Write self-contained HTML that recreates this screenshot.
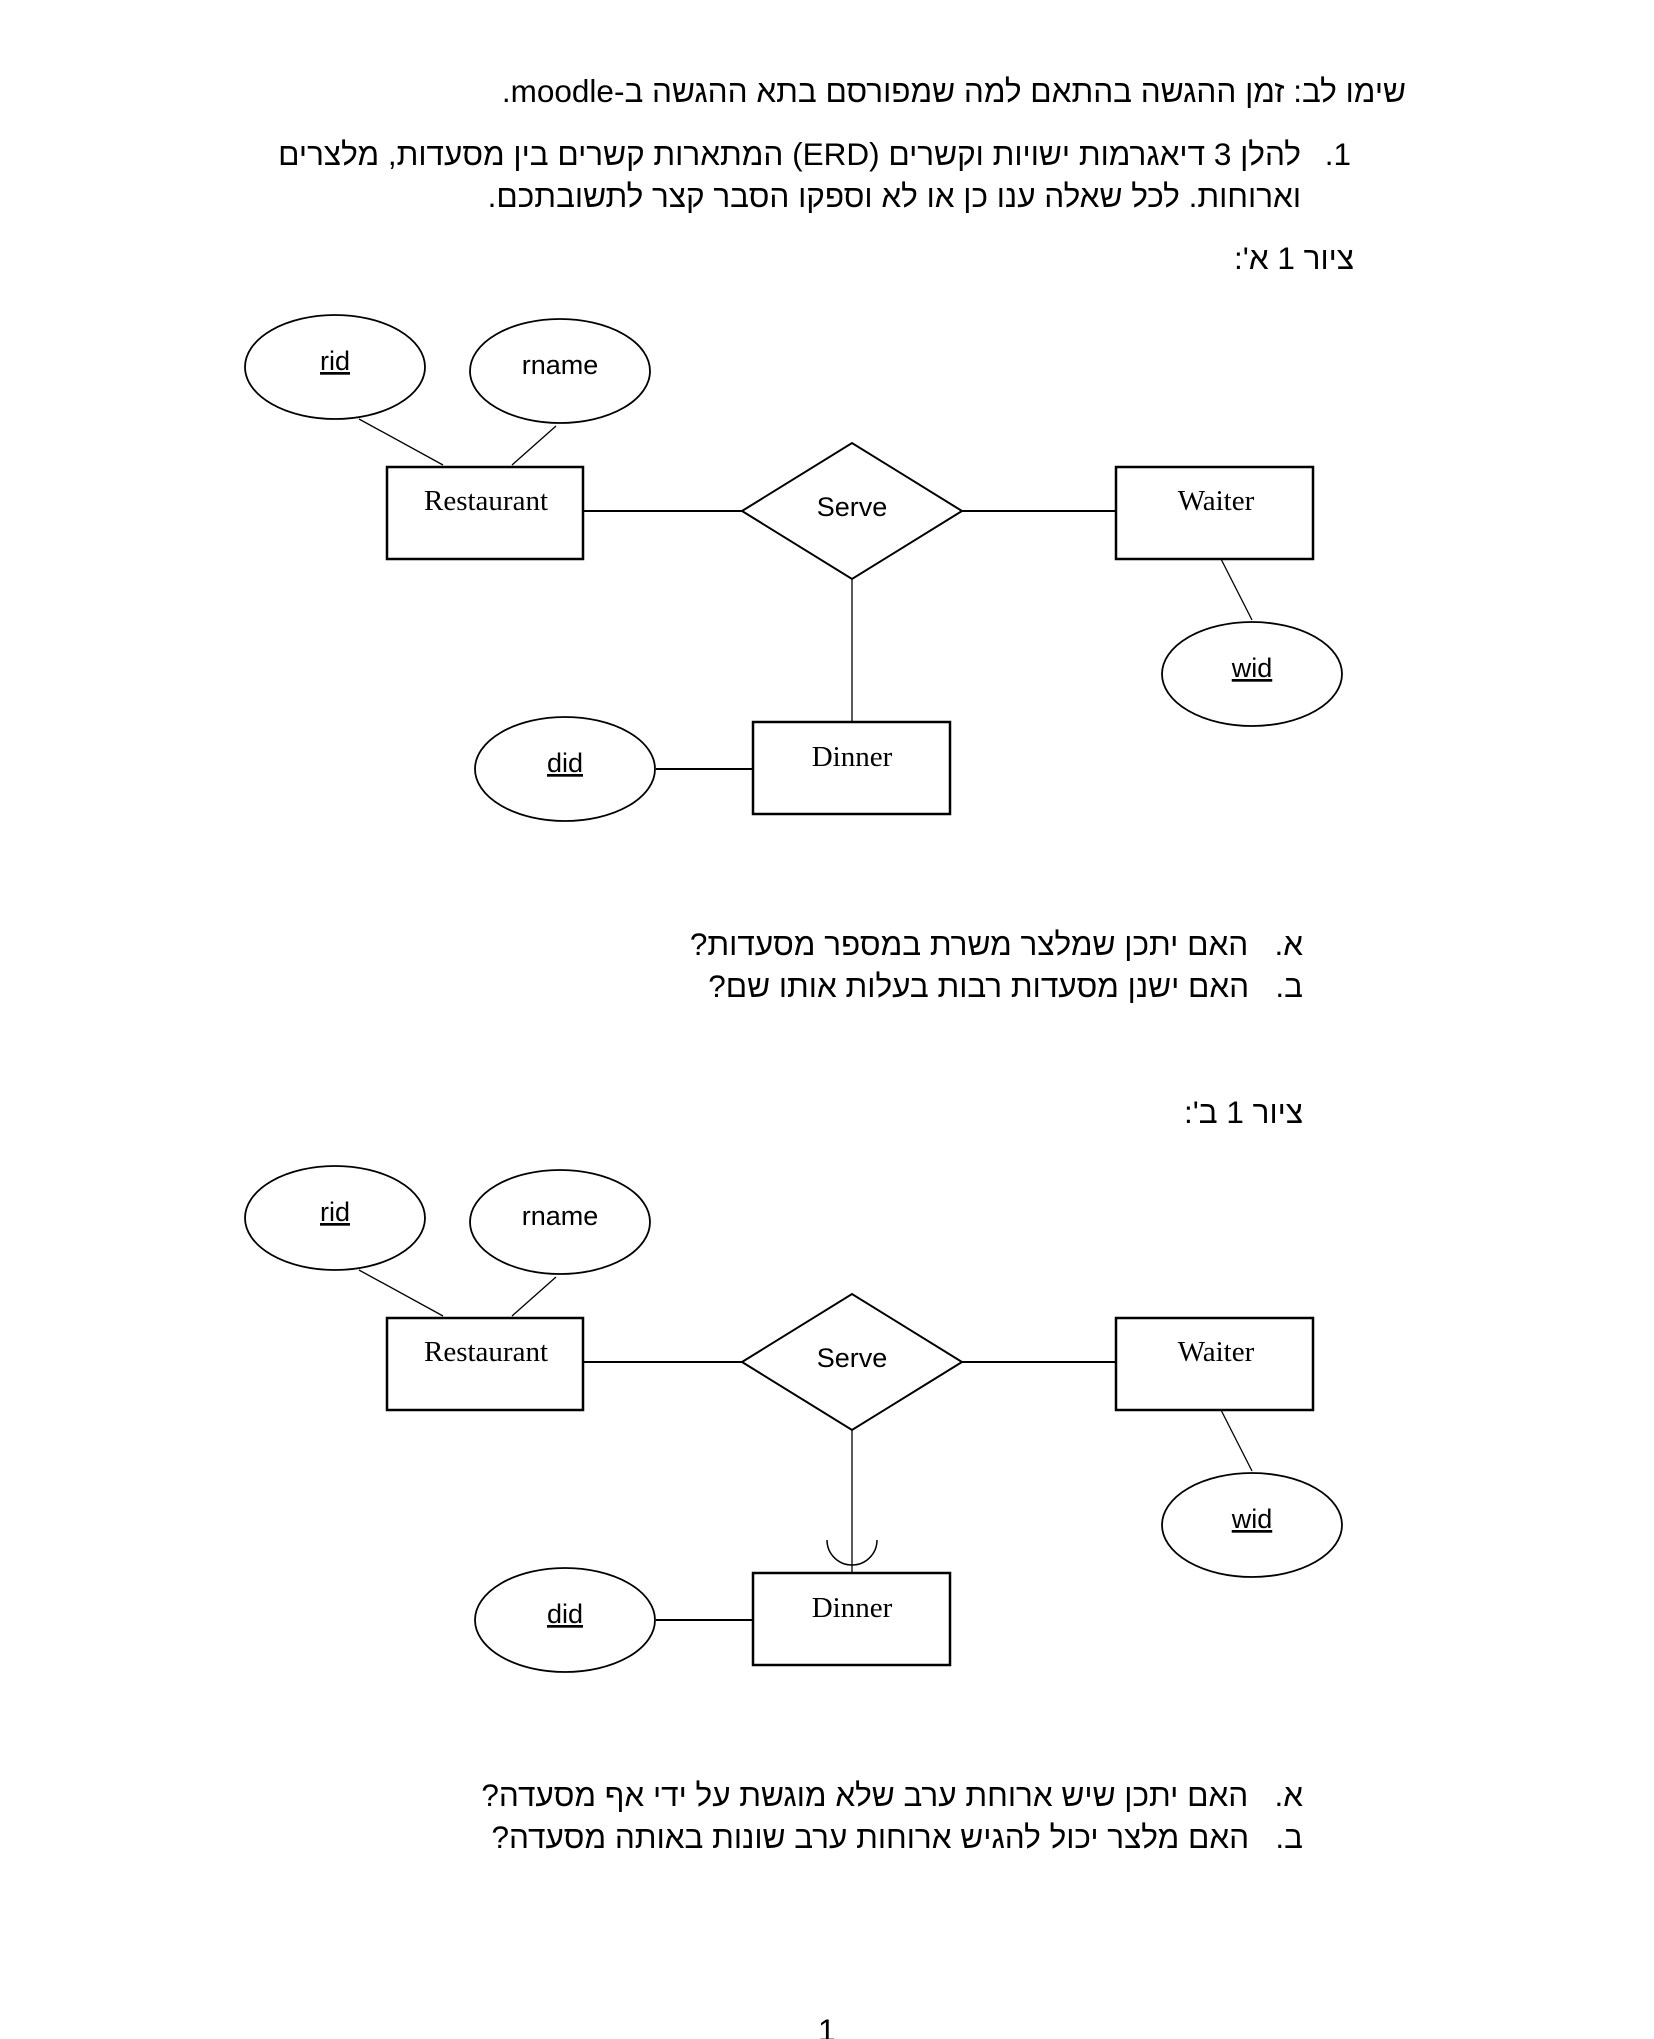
<!DOCTYPE html>
<html><head><meta charset="utf-8">
<style>
html,body{margin:0;padding:0;background:#fff;overflow:hidden;}
body{width:1654px;height:2039px;position:relative;}
.t{position:absolute;font-family:"Liberation Sans",Arial,sans-serif;font-size:31.5px;color:#000;white-space:nowrap;direction:rtl;line-height:1;}
svg{position:absolute;left:0;top:0;}
</style></head><body>
<div class="t" style="right:248px;top:76px;">שימו לב: זמן ההגשה בהתאם למה שמפורסם בתא ההגשה ב-moodle.</div>
<div class="t" style="right:303px;top:139px;">1.</div>
<div class="t" style="right:353px;top:139px;">להלן 3 דיאגרמות ישויות וקשרים (ERD) המתארות קשרים בין מסעדות, מלצרים</div>
<div class="t" style="right:353px;top:181px;">וארוחות. לכל שאלה ענו כן או לא וספקו הסבר קצר לתשובתכם.</div>
<div class="t" style="right:300px;top:243px;">ציור 1 א':</div>

<div class="t" style="right:351px;top:929px;">א.&nbsp;&nbsp;&nbsp;האם יתכן שמלצר משרת במספר מסעדות?</div>
<div class="t" style="right:351px;top:971px;">ב.&nbsp;&nbsp;&nbsp;האם ישנן מסעדות רבות בעלות אותו שם?</div>
<div class="t" style="right:351px;top:1097px;">ציור 1 ב':</div>
<div class="t" style="right:351px;top:1780px;">א.&nbsp;&nbsp;&nbsp;האם יתכן שיש ארוחת ערב שלא מוגשת על ידי אף מסעדה?</div>
<div class="t" style="right:351px;top:1822px;">ב.&nbsp;&nbsp;&nbsp;האם מלצר יכול להגיש ארוחות ערב שונות באותה מסעדה?</div>
<div class="t" style="left:818px;top:2015px;direction:ltr;height:24px;overflow:hidden;">1</div>

<svg width="1654" height="2039" viewBox="0 0 1654 2039">
<defs>
<g id="d">
  <ellipse cx="333" cy="366" rx="90" ry="52" fill="none" stroke="#000" stroke-width="1.8"/>
  <ellipse cx="558" cy="370" rx="90" ry="52" fill="none" stroke="#000" stroke-width="1.8"/>
  <ellipse cx="1250" cy="673" rx="90" ry="52" fill="none" stroke="#000" stroke-width="1.8"/>
  <ellipse cx="563" cy="768" rx="90" ry="52" fill="none" stroke="#000" stroke-width="1.8"/>
  <rect x="385" y="466" width="196" height="92" fill="none" stroke="#000" stroke-width="2.5"/>
  <rect x="1114" y="466" width="197" height="92" fill="none" stroke="#000" stroke-width="2.5"/>
  <rect x="751" y="721" width="197" height="92" fill="none" stroke="#000" stroke-width="2.5"/>
  <polygon points="740,510 850,442 960,510 850,578" fill="none" stroke="#000" stroke-width="2"/>
  <line x1="581" y1="510" x2="740" y2="510" stroke="#000" stroke-width="2"/>
  <line x1="960" y1="510" x2="1114" y2="510" stroke="#000" stroke-width="2"/>
  <line x1="357" y1="418" x2="441" y2="464" stroke="#000" stroke-width="1.3"/>
  <line x1="554" y1="425" x2="510" y2="464" stroke="#000" stroke-width="1.3"/>
  <line x1="1219" y1="558" x2="1250" y2="619" stroke="#000" stroke-width="1.3"/>
  <line x1="850" y1="578" x2="850" y2="720" stroke="#000" stroke-width="1.3"/>
  <line x1="654" y1="768" x2="751" y2="768" stroke="#000" stroke-width="2"/>
  <g font-family="Liberation Sans, sans-serif" font-size="27" text-anchor="middle">
    <text x="333" y="369" text-decoration="underline">rid</text>
    <text x="558" y="373">rname</text>
    <text x="1250" y="676" text-decoration="underline">wid</text>
    <text x="563" y="771" text-decoration="underline">did</text>
    <text x="850" y="515">Serve</text>
  </g>
  <g font-family="Liberation Serif, serif" font-size="29" text-anchor="middle">
    <text x="484" y="509">Restaurant</text>
    <text x="1214" y="509">Waiter</text>
    <text x="850" y="765">Dinner</text>
  </g>
</g>
</defs>
<g transform="translate(2,1)">
<use href="#d"/>
<use href="#d" y="851"/>
<path d="M825,1539 A25,25 0 0 0 875,1539" fill="none" stroke="#000" stroke-width="1.5"/>
</g>
</svg>
</body></html>
